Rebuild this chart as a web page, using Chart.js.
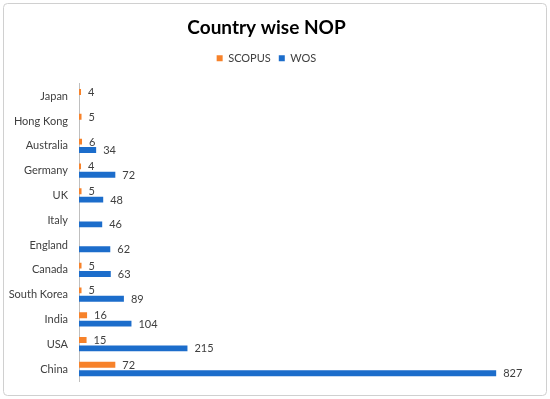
<!DOCTYPE html>
<html>
<head>
<meta charset="utf-8">
<script src="https://cdn.jsdelivr.net/npm/chart.js@4"></script>
<style>
  html, body { margin: 0; padding: 0; background: #fff; }
  #wrap { width: 550px; height: 399px; }
</style>
</head>
<body>
<div id="wrap"><canvas id="nop"></canvas></div>
<script>
// countries, top to bottom
var countries = ['Japan', 'Hong Kong', 'Australia', 'Germany', 'UK', 'Italy', 'England', 'Canada', 'South Korea', 'India', 'USA', 'China']
var scopus    = [4, 5, 6, 4, 5, null, null, 5, 5, 16, 15, 72]
var wos       = [null, null, 34, 72, 48, 46, 62, 63, 89, 104, 215, 827]

// rounded frame round the whole chart
var framePlugin = {
  id: 'frame',
  beforeDraw: function (chart) {
    var ctx = chart.ctx
    ctx.save()
    ctx.fillStyle = '#fff'
    ctx.fillRect(0, 0, chart.width, chart.height)
    ctx.strokeStyle = '#d0d0d0'
    ctx.lineWidth = 1
    ctx.beginPath()
    ctx.roundRect(3.5, 3.5, 543, 392, 4)
    ctx.stroke()
    ctx.restore()
  }
}

// more room under the legend
var legendGap = {
  id: 'legendGap',
  beforeInit: function (chart) {
    var fit = chart.legend.fit
    chart.legend.fit = function () {
      fit.bind(chart.legend)()
      this.height += 10
    }
  }
}

// value labels at the end of each bar
var valueLabels = {
  id: 'valueLabels',
  afterDatasetsDraw: function (chart) {
    var ctx = chart.ctx
    ctx.save()
    ctx.font = '11px Lato'
    ctx.fillStyle = '#404040'
    ctx.textAlign = 'left'
    ctx.textBaseline = 'middle'
    chart.data.datasets.forEach(function (ds, i) {
      chart.getDatasetMeta(i).data.forEach(function (bar, j) {
        var v = ds.data[j]
        if (v == null) return
        ctx.fillText(v, bar.x + 7, bar.y + 0.5)
      })
    })
    ctx.restore()
  }
}

var ctx = document.getElementById('nop').getContext('2d')
var chart = new Chart(ctx, {
  type: 'bar',
  data: {
    labels: countries,
    datasets: [
      {
        label: 'SCOPUS',
        data: scopus,
        backgroundColor: '#F7822A',
        categoryPercentage: 0.68,
        barPercentage: 0.7
      },
      {
        label: 'WOS',
        data: wos,
        backgroundColor: '#1C6DCB',
        categoryPercentage: 0.68,
        barPercentage: 0.7
      }
    ]
  },
  options: {
    indexAxis: 'y',
    responsive: true,
    maintainAspectRatio: false,
    animation: false,
    layout: { padding: { left: 0, right: 17, top: 0, bottom: 16 } },
    plugins: {
      title: {
        display: true,
        text: 'Country wise NOP',
        color: '#000',
        font: { family: 'Lato', size: 19, weight: 'bold' },
        padding: { top: 16, bottom: 6 }
      },
      legend: {
        display: true,
        position: 'top',
        labels: {
          boxWidth: 6,
          boxHeight: 6,
          padding: 8,
          color: '#404040',
          font: { family: 'Lato', size: 11 }
        }
      },
      tooltip: { enabled: false }
    },
    scales: {
      x: {
        display: false,
        min: 0,
        max: 900
      },
      y: {
        grid: { display: false, drawTicks: false },
        border: { display: true, color: '#bfbfbf' },
        ticks: {
          color: '#404040',
          padding: 11,
          font: { family: 'Lato', size: 11 }
        },
        afterFit: function (scale) { scale.width = 79 }
      }
    }
  },
  plugins: [framePlugin, legendGap, valueLabels]
})
</script>
</body>
</html>
